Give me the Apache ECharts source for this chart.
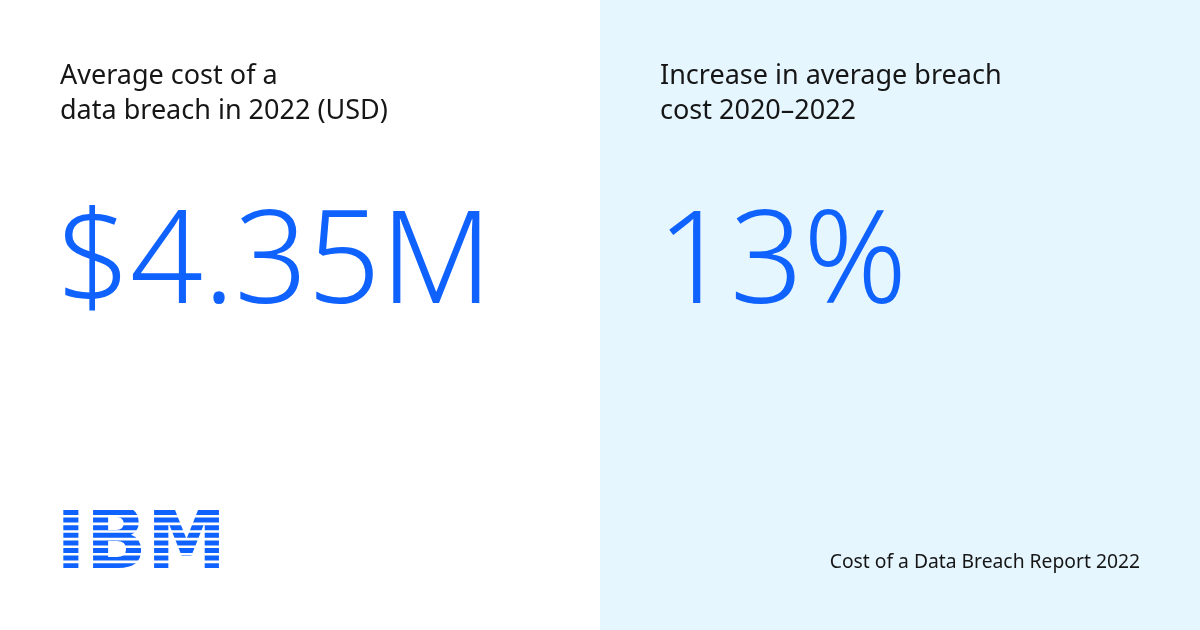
<!DOCTYPE html>
<html><head><meta charset="utf-8">
<script src="https://cdn.jsdelivr.net/npm/echarts@6/dist/echarts.min.js"></script>
<style>html,body{margin:0;padding:0;background:#fff}#c{width:1200px;height:630px}</style>
</head><body><div id="c"></div>
<script>
const titleLines = [["Average cost of a","data breach in 2022 (USD)"],["Increase in average breach","cost 2020\u20132022"]];
const metricValues = ["$4.35M","13%"];
const footer = "Cost of a Data Breach Report 2022";
const brand = "IBM";

const chart = echarts.init(document.getElementById('c'));
const blue = '#0f62fe', ink = '#161616';
const els = [
  {type:'rect', shape:{x:600,y:0,width:600,height:630}, style:{fill:'#e5f6ff'}}
];
const colX = [60, 660];
colX.forEach((x,i)=>{
  els.push({type:'text', x:x, y:76, style:{text:titleLines[i][0], fill:ink, font:'400 27px "Noto Sans"', verticalAlign:'middle'}});
  els.push({type:'text', x:x, y:111, style:{text:titleLines[i][1], fill:ink, font:'400 27px "Noto Sans"', verticalAlign:'middle'}});
  els.push({type:'text', x:x-3, y:267, style:{text:metricValues[i], fill:blue, font:'300 128px "Noto Sans"', verticalAlign:'middle'}});
});
els.push({type:'text', x:1140, y:563, style:{text:footer, fill:ink, font:'400 19.3px "Noto Sans"', align:'right', verticalAlign:'middle'}});
// logo
els.push({type:'text', x:56, y:546, scaleX:0.93, style:{text:brand, fill:blue, font:'bold 86px "DejaVu Sans"', verticalAlign:'middle'}});
for(let k=0;k<8;k++){
  els.push({type:'rect', shape:{x:50,y:510+k*7.6+5,width:175,height:2.6}, style:{fill:'#fff'}});
}
els.push({type:'rect', shape:{x:50,y:490,width:175,height:20}, style:{fill:'#fff'}});
els.push({type:'rect', shape:{x:50,y:571,width:175,height:25}, style:{fill:'#fff'}});
chart.setOption({animation:false, graphic:{elements:els}});
</script></body></html>
